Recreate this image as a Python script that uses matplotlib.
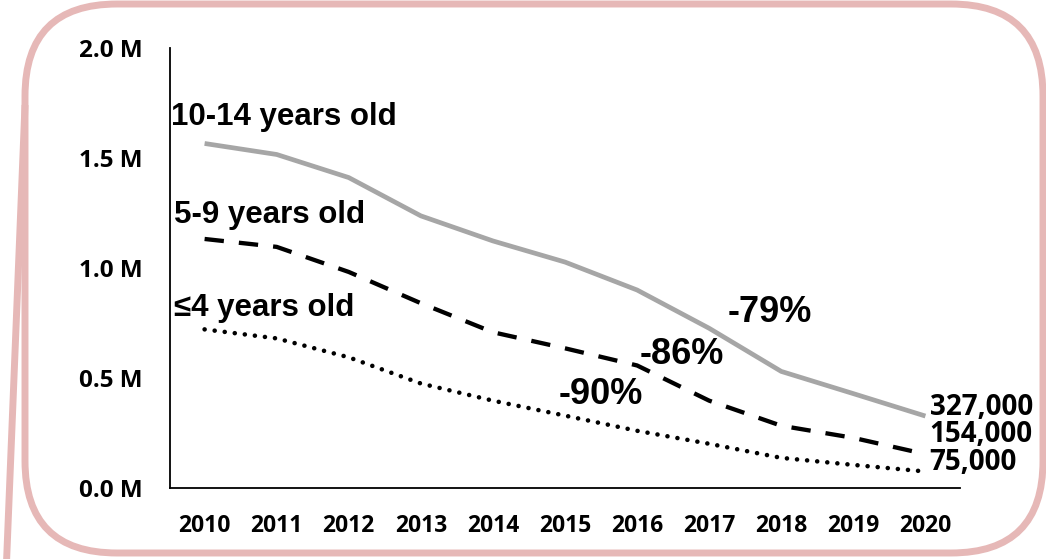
import matplotlib
matplotlib.use("Agg")
import matplotlib.pyplot as plt
from matplotlib.patches import FancyBboxPatch
from matplotlib.lines import Line2D

# Population by age group, millions
years = [2010, 2011, 2012, 2013, 2014, 2015, 2016, 2017, 2018, 2019, 2020]
age_10_14 = [1.566, 1.516, 1.411, 1.237, 1.123, 1.027, 0.900, 0.726, 0.530, 0.429, 0.327]
age_5_9 = [1.132, 1.096, 0.982, 0.840, 0.708, 0.635, 0.557, 0.397, 0.283, 0.228, 0.154]
age_0_4 = [0.721, 0.680, 0.594, 0.475, 0.397, 0.329, 0.260, 0.201, 0.137, 0.105, 0.075]

series_names = ["10-14 years old", "5-9 years old", "\u22644 years old"]
change_labels = ["-79%", "-86%", "-90%"]
end_labels = ["327,000", "154,000", "75,000"]

y_ticks = [0.0, 0.5, 1.0, 1.5, 2.0]
y_tick_labels = ["0.0 M", "0.5 M", "1.0 M", "1.5 M", "2.0 M"]

W, H, DPI = 1046, 559, 100
fig = plt.figure(figsize=(W / DPI, H / DPI), dpi=DPI)
fig.patch.set_facecolor("white")

# Callout frame drawn in pixel space
frame = fig.add_axes([0, 0, 1, 1], zorder=0)
frame.set_xlim(0, W)
frame.set_ylim(H, 0)
frame.axis("off")
border_col = "#E6B8B7"
frame.add_patch(FancyBboxPatch((25, 4), 1018, 549,
                               boxstyle="round,pad=0,rounding_size=92",
                               fill=False, ec=border_col, lw=5))
frame.add_line(Line2D([25, 6], [105, 575], color=border_col, lw=5,
                      solid_capstyle="butt"))

# Main chart
ax = fig.add_axes([170 / W, 71 / H, 790 / W, 440 / H], zorder=1)
ax.patch.set_alpha(0)
ax.set_xlim(2009.52, 2020.48)
ax.set_ylim(0, 2.0)

ax.plot(years, age_10_14, color="#A6A6A6", lw=3.4, solid_capstyle="butt")
ax.plot(years, age_5_9, color="black", lw=3.1, linestyle=(0, (4.5, 3.5)),
        dash_capstyle="butt")
ax.plot(years, age_0_4, color="black", lw=3.3, linestyle=(0, (0.01, 2.2)),
        dash_capstyle="round")

for side in ["top", "right"]:
    ax.spines[side].set_visible(False)
for side in ["left", "bottom"]:
    ax.spines[side].set_linewidth(1.3)
    ax.spines[side].set_color("black")

tick_font = dict(family=["Open Sans", "DejaVu Sans"], weight="bold")
ax.set_yticks(y_ticks)
ax.set_yticklabels(y_tick_labels, fontsize=17.5, **tick_font)
ax.set_xticks(years)
ax.set_xticklabels([str(y) for y in years], fontsize=16.5, **tick_font)
ax.tick_params(axis="y", length=0, pad=20)
ax.tick_params(axis="x", length=0, pad=19)

lab_font = dict(family=["Liberation Sans", "DejaVu Sans"], weight="bold")
ax.text(2009.53, 1.686, series_names[0], fontsize=22.5, va="center", ha="left", **lab_font)
ax.text(2009.57, 1.241, series_names[1], fontsize=22.5, va="center", ha="left", **lab_font)
ax.text(2009.57, 0.818, series_names[2], fontsize=22.5, va="center", ha="left", **lab_font)

ax.text(2017.84, 0.80, change_labels[0], fontsize=26, va="center", ha="center", **lab_font)
ax.text(2016.62, 0.609, change_labels[1], fontsize=26, va="center", ha="center", **lab_font)
ax.text(2015.49, 0.427, change_labels[2], fontsize=26, va="center", ha="center", **lab_font)

end_y = [0.364, 0.241, 0.114]
for lbl, yy in zip(end_labels, end_y):
    ax.text(2020.06, yy, lbl, fontsize=20, va="center", ha="left", **tick_font)

fig.savefig("out.png", dpi=DPI)
